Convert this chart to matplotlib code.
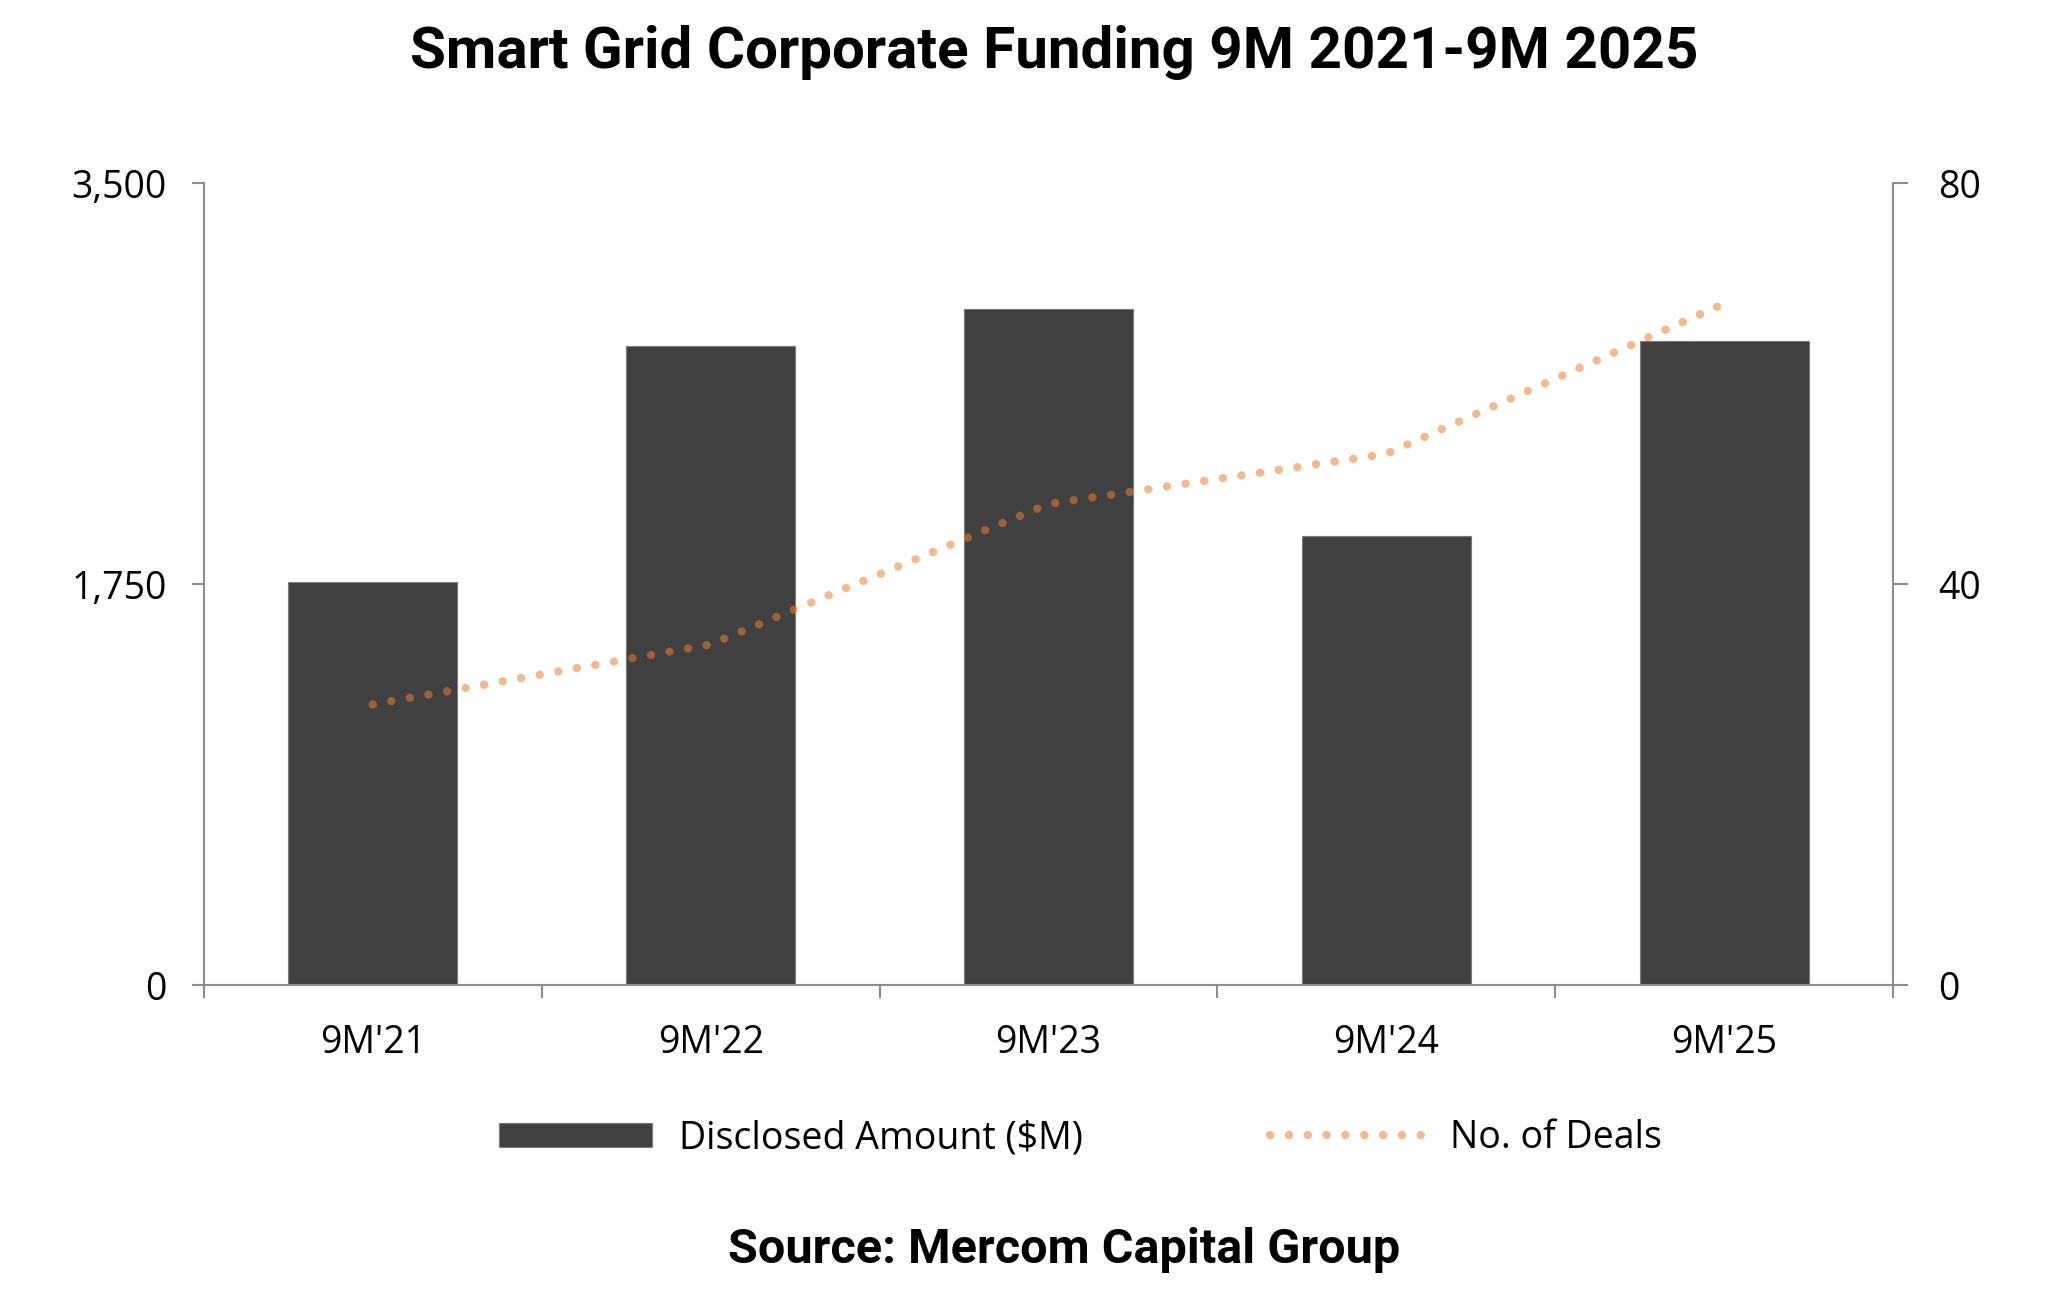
import matplotlib
matplotlib.use("Agg")
import matplotlib.pyplot as plt
from matplotlib.ticker import FuncFormatter, FixedLocator

categories = ["9M'21", "9M'22", "9M'23", "9M'24", "9M'25"]
amount = [1760, 2790, 2950, 1960, 2810]   # disclosed amount ($M)
deals = [28, 34, 48, 53, 68]              # no. of deals

bar_color = "#404040"
line_color = "#ED7D31"
axis_gray = "#8c8c8c"
txt_font = "Open Sans"

fig = plt.figure(figsize=(20.68, 12.91), dpi=100)
ax = fig.add_axes([0.0986, 0.237, 0.8168, 0.621])
ax2 = ax.twinx()

x = list(range(len(categories)))
bars = ax.bar(x, amount, width=0.5, color=bar_color, edgecolor="#7a7a7a",
              linewidth=0.8, label="Disclosed Amount ($M)", zorder=2)
line, = ax2.plot(x, deals, color=line_color, alpha=0.55, linewidth=6,
                 linestyle=(0, (0.01, 2.25)), dash_capstyle="round",
                 label="No. of Deals")

ax.set_xlim(-0.5, 4.5)
ax.set_ylim(0, 3500)
ax2.set_ylim(0, 80)
ax.set_yticks([0, 1750, 3500])
ax2.set_yticks([0, 40, 80])
ax.yaxis.set_major_formatter(FuncFormatter(lambda v, p: f"{v:,.0f}"))

# category labels centred, ticks on the boundaries
ax.set_xticks(x)
ax.set_xticklabels(categories, fontsize=27, family=txt_font)
ax.xaxis.set_minor_locator(FixedLocator([i - 0.5 for i in range(len(categories) + 1)]))
ax.tick_params(axis="x", which="major", length=0, pad=28)
ax.tick_params(axis="x", which="minor", length=9.5, width=1.5, color=axis_gray, direction="out")

ax.tick_params(axis="y", length=8.6, width=1.5, color=axis_gray, pad=18, labelsize=27)
ax2.tick_params(axis="y", length=11, width=1.5, color=axis_gray, pad=21.5, labelsize=27)
for lab in ax.get_yticklabels() + ax2.get_yticklabels():
    lab.set_family(txt_font)

for a in (ax, ax2):
    a.spines["top"].set_visible(False)
    for s in ("left", "right", "bottom"):
        a.spines[s].set_color(axis_gray)
        a.spines[s].set_linewidth(1.5)
ax.spines["right"].set_visible(False)
ax2.spines["left"].set_visible(False)
ax2.spines["bottom"].set_visible(False)

fig.text(0.51, 0.959, "Smart Grid Corporate Funding 9M 2021-9M 2025",
         ha="center", va="center", fontsize=42, fontweight="bold", family="Roboto")
fig.text(0.5146, 0.0315, "Source: Mercom Capital Group",
         ha="center", va="center", fontsize=35, fontweight="bold", family="Roboto")

fig.legend([bars, line], ["Disclosed Amount ($M)", "No. of Deals"],
           loc="center left", bbox_to_anchor=(0.2413, 0.1185), ncol=2, frameon=False,
           borderpad=0, borderaxespad=0,
           prop={"family": txt_font, "size": 27}, handlelength=4.08,
           handleheight=0.61, handletextpad=0.72, columnspacing=5.0)

fig.savefig("out.png", dpi=100, facecolor="white")
